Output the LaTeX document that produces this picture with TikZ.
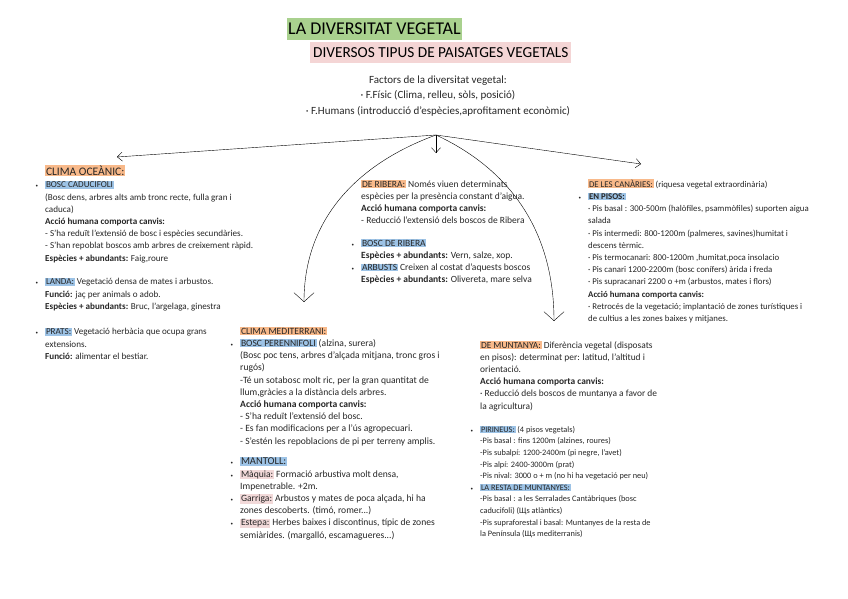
\documentclass[tikz,border=0pt]{standalone}
\usepackage{fontspec}
\setmainfont{Carlito}
\usetikzlibrary{arrows.meta, positioning}
\definecolor{titlegreen}{HTML}{A9D18E}
\definecolor{titlepink}{HTML}{F4D5D5}
\definecolor{hlorange}{HTML}{F8B98A}
\definecolor{hlblue}{HTML}{9DC3E6}
\definecolor{hlpink}{HTML}{F2D9D9}
\definecolor{inkgray}{HTML}{262626}
\setlength{\fboxsep}{0.8pt}
\newcommand{\hlo}[1]{\colorbox{hlorange}{#1}}
\newcommand{\hlb}[1]{\colorbox{hlblue}{#1}}
\newcommand{\hlp}[1]{\colorbox{hlpink}{#1}}
\newcommand{\blt}{\llap{{\tiny\textbullet}\hspace{7pt}}}

\begin{document}
\begin{tikzpicture}[x=1pt, y=-1pt,
    txt/.style={anchor=north west, inner sep=0pt, align=left, text=inkgray,
                font=\fontsize{#1}{12.2}\selectfont},
    txt/.default=9,
    arr/.style={-{Straight Barb[length=5pt, width=9pt]}, thin, color=black},
    bigarr/.style={-{Straight Barb[length=9pt, width=20pt]}, thin, color=black}
  ]
    \useasboundingbox (0,0) rectangle (848,599);

    %% Title
    \node[fill=titlegreen, anchor=west, inner xsep=1pt, minimum height=22pt,
          font=\fontsize{18}{20}\selectfont] (title) at (287,29) {LA DIVERSITAT VEGETAL};
    \node[fill=titlepink, anchor=west, inner xsep=3pt, minimum height=21pt,
          font=\fontsize{15.3}{17}\selectfont] (subtitle) at (310,52.5) {DIVERSOS TIPUS DE PAISATGES VEGETALS};
    \node[align=center, inner sep=0pt, text=inkgray,
          font=\fontsize{11}{15.5}\selectfont] (factors) at (438,96)
      {Factors de la diversitat vegetal:\\
       · F.Físic (Clima, relleu, sòls, posició)\\
       · F.Humans (introducció d'espècies,aprofitament econòmic)};

    %% Arrows
    \coordinate (root) at (436,135);
    \coordinate (tOce) at (117,157);
    \coordinate (tRib) at (436,153);
    \coordinate (tCan) at (641,164);
    \coordinate (tMed) at (304,302);
    \coordinate (tMun) at (554,321);
    \draw[arr] (root) -- (tOce);
    \draw[arr] (root) -- (tRib);
    \draw[arr] (root) -- (tCan);
    \draw[bigarr] (root) to[out=200, in=90] (tMed);
    \draw[bigarr] (root) to[out=-25, in=90] (tMun);

    %% Clima oceanic
    \node[txt=9.1] (oce) at (45,165)
      {\hlo{\fontsize{11.5}{12}\selectfont CLIMA OCEÀNIC:}\\
       \blt\hlb{BOSC CADUCIFOLI}\\
       (Bosc dens, arbres alts amb tronc recte, fulla gran i\\
       caduca)\\
       \textbf{Acció humana comporta canvis:}\\
       - S'ha reduït l'extensió de bosc i espècies secundàries.\\
       - S'han repoblat boscos amb arbres de creixement ràpid.\\
       \textbf{Espècies + abundants:} Faig,roure};
    \node[txt=9.1] (landa) at (45,278)
      {\blt\hlb{LANDA:} Vegetació densa de mates i arbustos.\\
       \textbf{Funció:} jaç per animals o adob.\\
       \textbf{Espècies + abundants:} Bruc, l'argelaga, ginestra};
    \node[txt=9.1] (prats) at (45,328)
      {\blt\hlb{PRATS:} Vegetació herbàcia que ocupa grans\\
       extensions.\\
       \textbf{Funció:} alimentar el bestiar.};

    %% Ribera
    \node[txt=9.5] (rib) at (361,180)
      {\hlo{DE RIBERA:} Només viuen determinats\\
       espècies per la presència constant d'aigua.\\
       \textbf{Acció humana comporta canvis:}\\
       - Reducció l'extensió dels boscos de Ribera};
    \node[txt=9.5] (ribbosc) at (361,239)
      {\blt\hlb{BOSC DE RIBERA}\\
       \textbf{Espècies + abundants:} Vern, salze, xop.\\
       \blt\hlb{ARBUSTS} Creixen al costat d'aquests boscos\\
       \textbf{Espècies + abundants:} Olivereta, mare selva};

    %% Clima mediterrani
    \node[txt=9.6] (med) at (240,327)
      {\hlo{CLIMA MEDITERRANI:}\\
       \blt\hlb{BOSC PERENNIFOLI} (alzina, surera)\\
       (Bosc poc tens, arbres d'alçada mitjana, tronc gros i\\
       rugós)\\
       -Té un sotabosc molt ric, per la gran quantitat de\\
       llum,gràcies a la distància dels arbres.\\
       \textbf{Acció humana comporta canvis:}\\
       - S'ha reduït l'extensió del bosc.\\
       - Es fan modificacions per a l'ús agropecuari.\\
       - S'estén les repoblacions de pi per terreny amplis.};
    \node[txt=9.6] (mant) at (240,457)
      {\blt\hlb{\fontsize{10.5}{12}\selectfont MANTOLL:}\\
       \blt\hlp{Màquia:} Formació arbustiva molt densa,\\
       Impenetrable. +2m.\\
       \blt\hlp{Garriga:} Arbustos y mates de poca alçada, hi ha\\
       zones descoberts. (timó, romer...)\\
       \blt\hlp{Estepa:} Herbes baixes i discontinus, típic de zones\\
       semiàrides. (margalló, escamagueres...)};

    %% Canaries
    \node[txt=8.8] (can) at (588,179)
      {\hlo{DE LES CANÀRIES:} (riquesa vegetal extraordinària)\\
       \blt\hlb{\textbf{EN PISOS:}}\\
       · Pis basal : 300-500m (halòfiles, psammòfiles) suporten aigua\\
       salada\\
       · Pis intermedi: 800-1200m (palmeres, savines)humitat i\\
       descens tèrmic.\\
       · Pis termocanari: 800-1200m ,humitat,poca insolacio\\
       · Pis canari 1200-2200m (bosc conífers) àrida i freda\\
       · Pis supracanari 2200 o +m (arbustos, mates i flors)\\
       \textbf{Acció humana comporta canvis:}\\
       · Retrocés de la vegetació; implantació de zones turístiques i\\
       de cultius a les zones baixes y mitjanes.};

    %% Muntanya
    \node[txt=9.4] (mun) at (480,341)
      {\hlo{DE MUNTANYA:} Diferència vegetal (disposats\\
       en pisos): determinat per: latitud, l'altitud i\\
       orientació.\\
       \textbf{Acció humana comporta canvis:}\\
       · Reducció dels boscos de muntanya a favor de\\
       la agricultura)};
    \node[txt, font=\fontsize{8.3}{11.6}\selectfont] (pir) at (480,426)
      {\blt\hlb{PIRINEUS:} (4 pisos vegetals)\\
       -Pis basal : fins 1200m (alzines, roures)\\
       -Pis subalpí: 1200-2400m (pi negre, l'avet)\\
       -Pis alpí: 2400-3000m (prat)\\
       -Pis nival: 3000 o + m (no hi ha vegetació per neu)\\
       \blt\hlb{LA RESTA DE MUNTANYES:}\\
       -Pis basal : a les Serralades Cantàbriques (bosc\\
       caducifoli) (Щs atlàntics)\\
       -Pis supraforestal i basal: Muntanyes de la resta de\\
       la Península (Щs mediterranis)};
\end{tikzpicture}
\end{document}
